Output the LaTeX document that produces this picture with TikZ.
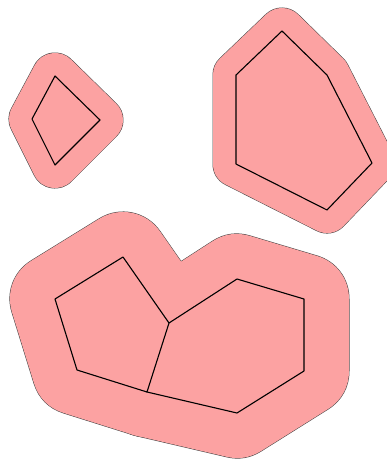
\documentclass[tikz,border=0pt]{standalone}
\definecolor{buf}{RGB}{252,162,162}
\begin{document}
\begin{tikzpicture}[x=1pt,y=-1pt,line join=round,line cap=round,
  outline/.style={draw=black!75,line width=#1},
  band/.style={draw=buf,line width=#1},
  poly/.style={draw=black,line width=1.1pt}]
\useasboundingbox (0,0) rectangle (387,459);
% vertices
\coordinate (q1) at (55,76);  \coordinate (q2) at (100,120);
\coordinate (q3) at (55,165); \coordinate (q4) at (32,119);
\coordinate (h1) at (282,31); \coordinate (h2) at (327,75);
\coordinate (h3) at (372,163);\coordinate (h4) at (327,210);
\coordinate (h5) at (236,164);\coordinate (h6) at (236,75);
\coordinate (p1) at (123,257);\coordinate (c)  at (169,323);
\coordinate (p3) at (147,392);\coordinate (p4) at (77,370);
\coordinate (p5) at (55,299);
\coordinate (g2) at (237,279);\coordinate (g3) at (304,299);
\coordinate (g4) at (304,371);\coordinate (g5) at (237,413);
% buffer outlines
\draw[outline=47pt] (q1)--(q2)--(q3)--(q4)--cycle;
\draw[outline=47pt] (h1)--(h2)--(h3)--(h4)--(h5)--(h6)--cycle;
\draw[outline=91pt] (p1)--(c)--(p3)--(p4)--(p5)--cycle;
\draw[outline=91pt] (c)--(g2)--(g3)--(g4)--(g5)--(p3)--cycle;
% buffer fill
\draw[band=46pt,fill=buf] (q1)--(q2)--(q3)--(q4)--cycle;
\draw[band=46pt,fill=buf] (h1)--(h2)--(h3)--(h4)--(h5)--(h6)--cycle;
\draw[band=90pt,fill=buf] (p1)--(c)--(p3)--(p4)--(p5)--cycle;
\draw[band=90pt,fill=buf] (c)--(g2)--(g3)--(g4)--(g5)--(p3)--cycle;
% polygons
\draw[poly] (q1)--(q2)--(q3)--(q4)--cycle;
\draw[poly] (h1)--(h2)--(h3)--(h4)--(h5)--(h6)--cycle;
\draw[poly] (p1)--(c)--(p3)--(p4)--(p5)--cycle;
\draw[poly] (c)--(g2)--(g3)--(g4)--(g5)--(p3);
\end{tikzpicture}
\end{document}
